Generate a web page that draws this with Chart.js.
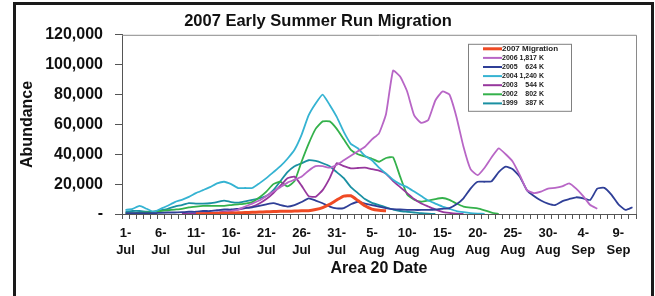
<!DOCTYPE html>
<html>
<head>
<meta charset="utf-8">
<script src="https://cdn.jsdelivr.net/npm/chart.js@4.4.1/dist/chart.umd.min.js"></script>
<style>
  html, body { margin: 0; padding: 0; background: #fff; }
  #wrap { width: 655px; height: 296px; }
</style>
</head>
<body>
<div id="wrap"><canvas id="chart" width="655" height="296"></canvas></div>
<script>
// daily categories, 1-Jul .. 11-Sep
const categories = [
  '1-Jul','2-Jul','3-Jul','4-Jul','5-Jul','6-Jul','7-Jul','8-Jul','9-Jul','10-Jul',
  '11-Jul','12-Jul','13-Jul','14-Jul','15-Jul','16-Jul','17-Jul','18-Jul','19-Jul','20-Jul',
  '21-Jul','22-Jul','23-Jul','24-Jul','25-Jul','26-Jul','27-Jul','28-Jul','29-Jul','30-Jul','31-Jul',
  '1-Aug','2-Aug','3-Aug','4-Aug','5-Aug','6-Aug','7-Aug','8-Aug','9-Aug','10-Aug',
  '11-Aug','12-Aug','13-Aug','14-Aug','15-Aug','16-Aug','17-Aug','18-Aug','19-Aug','20-Aug',
  '21-Aug','22-Aug','23-Aug','24-Aug','25-Aug','26-Aug','27-Aug','28-Aug','29-Aug','30-Aug','31-Aug',
  '1-Sep','2-Sep','3-Sep','4-Sep','5-Sep','6-Sep','7-Sep','8-Sep','9-Sep','10-Sep','11-Sep'
];

const seriesNames  = ['2007 Migration', '2006', '2005', '2004', '2003', '2002', '1999'];
const seriesTotals = ['', '1,817 K', '624 K', '1,240 K', '544 K', '802 K', '387 K'];
const seriesColors = ['#ef4a24', '#b866c6', '#2f3f97', '#35b3d2', '#97379d', '#34b14b', '#1a90a2'];

const run2007 = [
  null,null,null,null,null,null,null,null,null,null,
  100,200,300,400,500,600,800,1000,1100,1300,
  1500,1600,1800,1800,2000,2100,2200,3000,4300,6500,9400,
  12000,12200,9000,5500,3300,2500,2200,null,null,null,
  null,null,null,null,null,null,null,null,null,null,
  null,null,null,null,null,null,null,null,null,null,null,
  null,null,null,null,null,null,null,null,null,null,null
];
const run2006 = [
  null,null,null,null,null,null,null,null,null,null,
  null,null,200,500,1000,2000,3000,5000,7000,9000,
  12000,15000,18000,21000,23000,25000,29000,32000,32000,31000,33000,
  36000,39000,42000,45000,50000,54000,67000,96000,92000,82000,
  66000,61000,63000,76000,82000,80000,65000,45000,30000,26000,
  31000,38000,44000,40000,35000,26000,16000,14000,15000,17000,17500,
  18500,20500,17000,12000,6000,3500,null,null,null,null,null
];
const run2005 = [
  500,500,500,500,500,800,1000,1000,1200,1500,
  1500,2000,2000,2500,3000,3000,3500,4000,4500,5500,
  6500,7300,6000,5000,6000,8000,10500,9000,7200,5000,3800,
  4000,6500,8200,7000,6000,5000,4000,3200,3000,2800,
  2700,2700,2800,3000,3500,4000,6500,10500,17000,21600,
  21600,22000,28000,31700,30000,25000,16000,12000,9000,7000,6000,
  8500,10000,11200,10500,9400,17000,17500,13000,6500,2700,4500
];
const run2004 = [
  2700,3500,5400,3500,1500,3500,5500,8000,9500,11500,
  14000,16000,18000,20500,21600,20000,17400,17400,17400,20500,
  24000,28000,32000,37000,43000,53000,66000,74000,80000,73000,65000,
  55000,47000,44000,39000,36000,31000,27000,23000,20000,18000,
  15000,12000,9000,7000,5000,3500,2000,1200,600,300,
  100,null,null,null,null,null,null,null,null,null,null,
  null,null,null,null,null,null,null,null,null,null,null
];
const run2003 = [
  null,null,null,null,null,null,null,null,200,300,
  400,500,800,1000,1500,2000,3000,4000,5000,7000,
  10000,14000,19000,24000,25000,19000,12000,11500,16000,24000,34000,
  32000,30600,30800,31000,30000,29000,27000,22000,18000,14000,
  10000,7000,5000,3000,1500,800,300,0,null,null,
  null,null,null,null,null,null,null,null,null,null,null,
  null,null,null,null,null,null,null,null,null,null,null
];
const run2002 = [
  500,500,800,1000,1500,2000,2500,3000,3500,4500,
  5000,5400,5400,5400,5500,6000,6500,7000,8000,11000,
  15000,20000,21600,18500,22000,35000,47000,57000,62000,62000,57000,
  50000,43000,40000,38500,37000,35000,37500,38000,25000,13000,
  9500,8200,9000,10000,10700,9500,7000,5000,4200,3800,
  2500,1000,0,null,null,null,null,null,null,null,null,
  null,null,null,null,null,null,null,null,null,null,null
];
const run1999 = [
  1500,2000,2000,1500,1500,2500,3500,5000,6000,7300,
  7000,7000,7200,8000,9000,8000,7600,8500,9400,10500,
  12000,16000,22000,28000,32000,34000,36000,35500,34000,32000,28000,
  24000,18000,14000,10000,7500,6000,4500,3000,2000,1500,
  1000,500,200,0,null,null,null,null,null,null,
  null,null,null,null,null,null,null,null,null,null,null,
  null,null,null,null,null,null,null,null,null,null,null
];
const seriesData = [run2007, run2006, run2005, run2004, run2003, run2002, run1999];

const FONT = "'Liberation Sans', Arial, sans-serif";

// white page + black frame
const framePlugin = {
  id: 'frame',
  beforeDraw(chart) {
    const c = chart.ctx;
    c.save();
    c.fillStyle = '#fff';
    c.fillRect(0, 0, chart.width, chart.height);
    c.strokeStyle = '#1a1a1a';
    c.lineWidth = 3;
    c.strokeRect(14.5, 3.5, 638, 300);
    c.restore();
  },
  afterDraw(chart) {
    // top and right edge of the plot area
    const a = chart.chartArea, c = chart.ctx;
    c.save();
    c.strokeStyle = '#8a8a8a';
    c.lineWidth = 1;
    c.beginPath();
    c.moveTo(a.left, a.top + 0.5);
    c.lineTo(a.right + 0.5, a.top + 0.5);
    c.lineTo(a.right + 0.5, a.bottom);
    c.stroke();
    c.restore();
  }
};

// boxed legend inside the plot
const boxLegend = {
  id: 'boxLegend',
  afterDatasetsDraw(chart) {
    const a = chart.chartArea, c = chart.ctx;
    const x = a.left + 346, y = a.top + 9, w = 103, h = 67, row = 9.1;
    c.save();
    c.fillStyle = '#fff';
    c.fillRect(x, y, w, h);
    c.strokeStyle = '#808080';
    c.lineWidth = 1;
    c.strokeRect(x + 0.5, y + 0.5, w, h);
    c.textBaseline = 'middle';
    chart.data.datasets.forEach((ds, i) => {
      const ly = y + 5 + i * row;
      c.strokeStyle = ds.borderColor;
      c.lineWidth = i === 0 ? 3 : 2;
      c.beginPath();
      c.moveTo(x + 15, ly);
      c.lineTo(x + 34, ly);
      c.stroke();
      c.fillStyle = '#222';
      c.textAlign = 'left';
      c.font = (i === 0 ? 'bold 8px ' : 'bold 7px ') + FONT;
      c.fillText(seriesNames[i], x + 34, ly);
      if (seriesTotals[i]) {
        c.textAlign = 'right';
        c.fillText(seriesTotals[i], x + 76, ly);
      }
    });
    c.restore();
  }
};

new Chart(document.getElementById('chart'), {
  type: 'line',
  data: {
    labels: categories,
    datasets: seriesData.map((d, i) => ({
      label: seriesNames[i],
      data: d,
      borderColor: seriesColors[i],
      backgroundColor: seriesColors[i],
      borderWidth: i === 0 ? 3 : 1.8,
      pointRadius: 0,
      tension: 0.15,
      spanGaps: false
    }))
  },
  options: {
    responsive: false,
    animation: false,
    layout: { padding: { top: 2, right: 19, bottom: 20, left: 0 } },
    plugins: {
      legend: { display: false },
      tooltip: { enabled: false },
      title: {
        display: true,
        text: '2007 Early Summer Run Migration',
        color: '#111',
        font: { family: FONT, size: 16.5, weight: 'bold' },
        padding: { top: 10, bottom: 3 }
      }
    },
    scales: {
      x: {
        type: 'category',
        offset: true,
        afterFit(scale) { scale.height = 62; },
        grid: { drawOnChartArea: false, drawTicks: true, tickLength: 5, color: '#555', offset: true },
        border: { display: true, color: '#555', width: 1 },
        ticks: {
          autoSkip: false,
          maxRotation: 0,
          minRotation: 0,
          padding: 6,
          color: '#111',
          font: { family: FONT, size: 13, weight: 'bold', lineHeight: 1.3 },
          callback: function(v, i) {
            if (i % 5 !== 0) return '';
            const parts = categories[i].split('-');
            return [parts[0] + '-', parts[1]];
          }
        },
        title: {
          display: true,
          text: 'Area 20 Date',
          color: '#111',
          font: { family: FONT, size: 16, weight: 'bold', lineHeight: 1.0 },
          padding: { top: 0, bottom: -1 }
        }
      },
      y: {
        min: 0,
        max: 120000,
        afterFit(scale) { scale.width = 122; },
        grid: { drawOnChartArea: false, drawTicks: true, tickLength: 7, color: '#555' },
        border: { display: true, color: '#555', width: 1 },
        ticks: {
          stepSize: 20000,
          padding: 12,
          color: '#111',
          font: { family: FONT, size: 16, weight: 'bold' },
          callback: v => v === 0 ? '-' : v.toLocaleString('en-US')
        },
        title: {
          display: true,
          text: 'Abundance',
          color: '#111',
          font: { family: FONT, size: 16, weight: 'bold' },
          padding: { top: 18, bottom: 0 }
        }
      }
    }
  },
  plugins: [framePlugin, boxLegend]
});
</script>
</body>
</html>
